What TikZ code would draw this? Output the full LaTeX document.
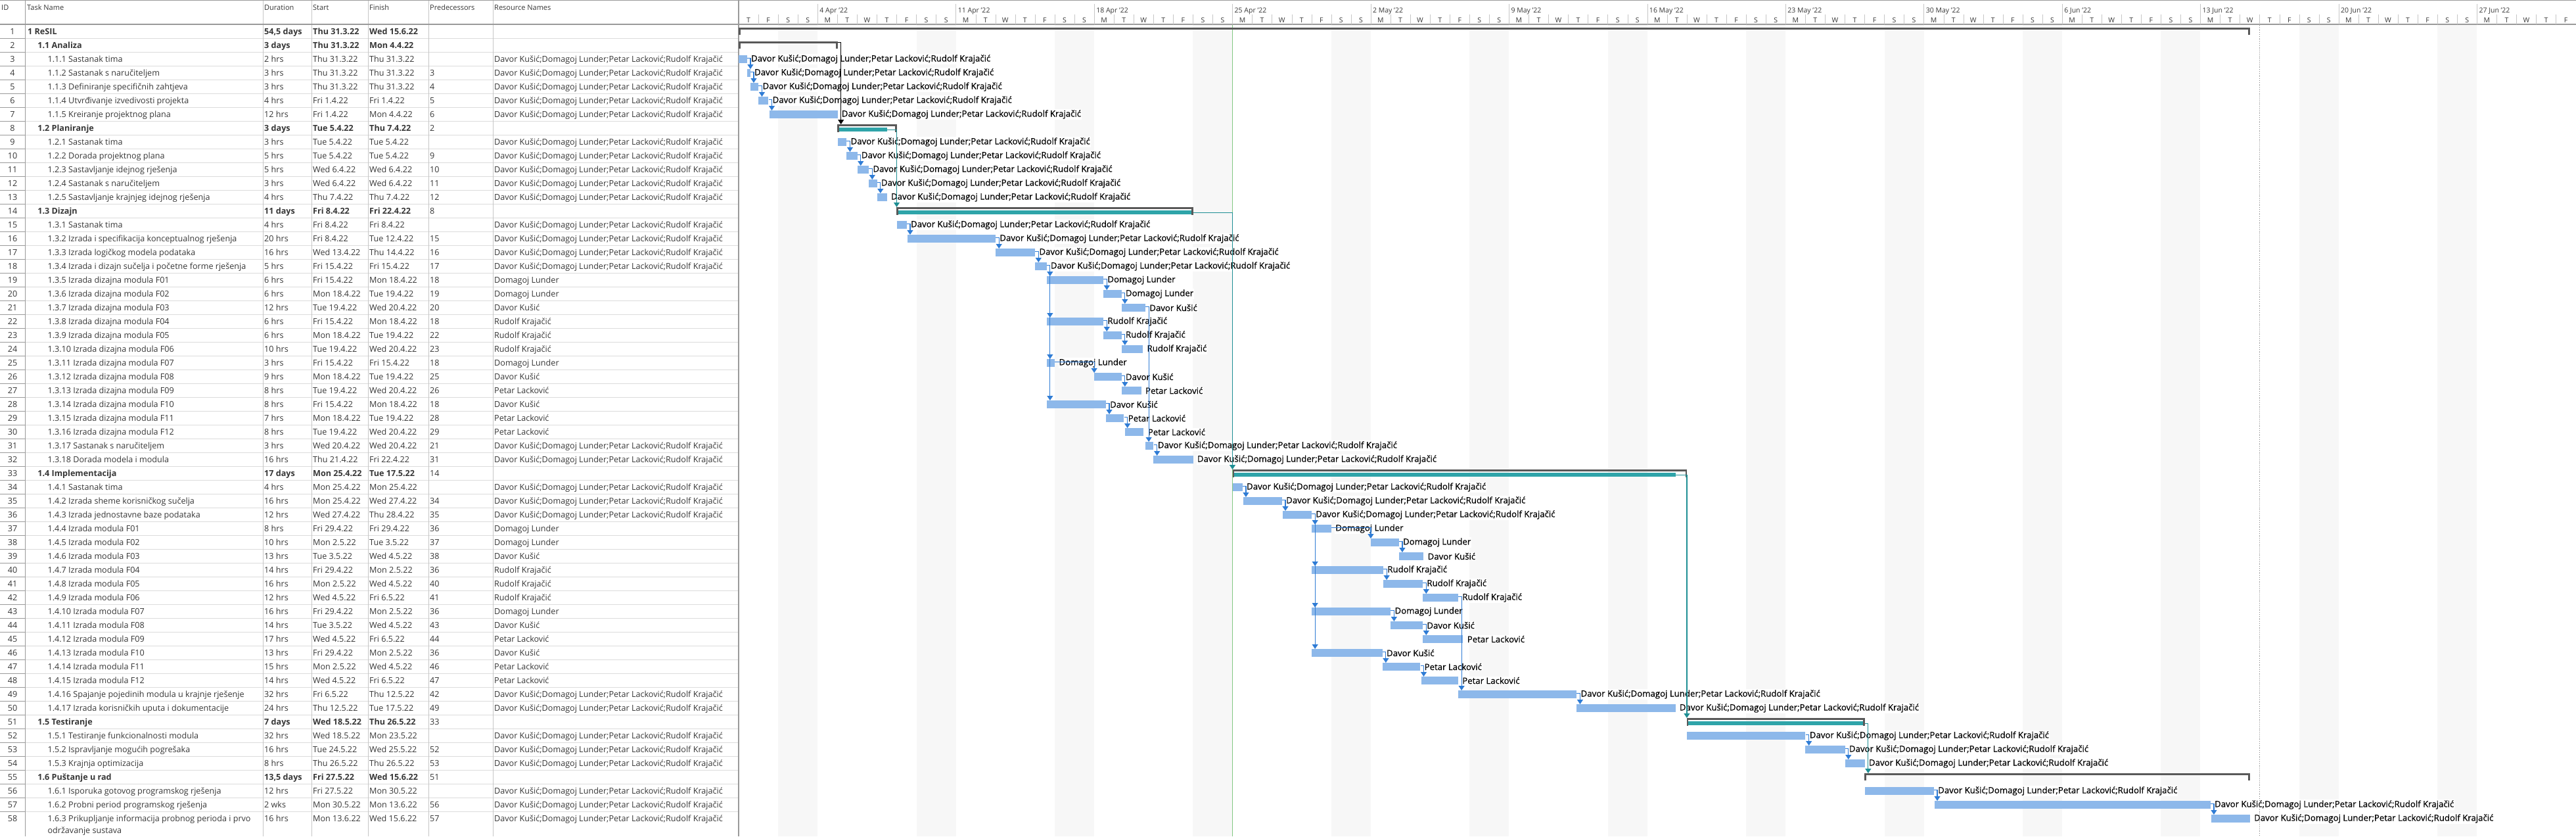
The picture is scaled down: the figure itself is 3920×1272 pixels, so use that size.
\documentclass[tikz,border=0pt]{standalone}
\usepackage{fontspec}
\setmainfont{Open Sans}
\newfontfamily\lblfont{Open Sans}[BoldFont={Open Sans},BoldFeatures={FakeBold=0.6}]
\usetikzlibrary{positioning,arrows.meta,calc}

\definecolor{barblue}{HTML}{8DB8EA}
\definecolor{linkblue}{HTML}{2F7CD5}
\definecolor{sumgray}{HTML}{595959}
\definecolor{rollteal}{HTML}{2FA4A9}
\definecolor{linkteal}{HTML}{1E8F94}
\definecolor{wkend}{HTML}{F7F7F7}
\definecolor{rowline}{HTML}{DCDCDC}
\definecolor{colline}{HTML}{C6C6C6}
\definecolor{idline}{HTML}{9A9A9A}
\definecolor{tabtext}{HTML}{363636}
\definecolor{nowgreen}{HTML}{82C782}

\newcommand\chartx{1124}
\newcommand\daywd{30.06}
\newcommand\hrw{1.2525}

\newcommand\resA{Davor Kušić;Domagoj Lunder;Petar Lacković;Rudolf Krajačić}
\newcommand\resD{Davor Kušić}
\newcommand\resM{Domagoj Lunder}
\newcommand\resP{Petar Lacković}
\newcommand\resR{Rudolf Krajačić}
\newcommand\resN{}

\tikzset{
  cell/.style={anchor=base west,inner sep=0pt,text=tabtext,font=\fontsize{12.6}{15}\selectfont},
  headcell/.style={anchor=base west,inner sep=0pt,text=tabtext,font=\fontsize{11}{13}\selectfont},
  scalecell/.style={inner sep=0pt,text=tabtext,font=\fontsize{10.5}{12}\selectfont},
  taskbar/.style={anchor=north west,fill=barblue,inner sep=0pt,minimum height=11.7pt},
  sumbar/.style={anchor=north west,fill=sumgray,inner sep=0pt,minimum height=3pt},
  rollbar/.style={anchor=north west,fill=rollteal,inner sep=0pt,minimum height=6pt},
  barlbl/.style={inner sep=1pt,fill=white,text=black,font=\lblfont\bfseries\fontsize{13.2}{15}\selectfont},
  lnk/.style={draw=linkblue,line width=1.2pt,-{Triangle[width=9pt,length=7pt]}},
}

\begin{document}
\begin{tikzpicture}[x=1pt,y=-1pt]
\useasboundingbox (0,0) rectangle (3920,1272);

% weekends
\foreach \k in {0,...,12}
  \fill[wkend] ({\chartx+(2+7*\k)*\daywd},38) rectangle ({\chartx+(4+7*\k)*\daywd},1272);

% table grid
\foreach \k in {1,...,57} {
  \draw[rowline] (38,{37+\k*21}) -- (1124,{37+\k*21});
  \draw[idline] (0,{37+\k*21}) -- (38,{37+\k*21});
}
\foreach \cx in {400,474,560,652,750}
  \draw[colline] (\cx,0) -- (\cx,1272);
\draw[idline] (38,0) -- (38,1272);
\draw[idline] (0,0.5) -- (3920,0.5);
\draw[idline,line width=1.5pt] (0,37) -- (3920,37);

\node[headcell] (hid) at (2,15) {ID};
\node[headcell] (hname) at (41,15) {Task Name};
\node[headcell] (hdur) at (402,15) {Duration};
\node[headcell] (hstart) at (476,15) {Start};
\node[headcell] (hfin) at (562,15) {Finish};
\node[headcell] (hpred) at (654,15) {Predecessors};
\node[headcell] (hres) at (752,15) {Resource Names};

\foreach \i/\lv/\nm/\du/\st/\fin/\pr/\rs in {
1/0/1 ReSIL/{54,5 days}/Thu 31.3.22/Wed 15.6.22//N,
2/1/1.1 Analiza/3 days/Thu 31.3.22/Mon 4.4.22//N,
3/2/1.1.1 Sastanak tima/2 hrs/Thu 31.3.22/Thu 31.3.22//A,
4/2/1.1.2 Sastanak s naručiteljem/3 hrs/Thu 31.3.22/Thu 31.3.22/3/A,
5/2/1.1.3 Definiranje specifičnih zahtjeva/3 hrs/Thu 31.3.22/Thu 31.3.22/4/A,
6/2/1.1.4 Utvrđivanje izvedivosti projekta/4 hrs/Fri 1.4.22/Fri 1.4.22/5/A,
7/2/1.1.5 Kreiranje projektnog plana/12 hrs/Fri 1.4.22/Mon 4.4.22/6/A,
8/1/1.2 Planiranje/3 days/Tue 5.4.22/Thu 7.4.22/2/N,
9/2/1.2.1 Sastanak tima/3 hrs/Tue 5.4.22/Tue 5.4.22//A,
10/2/1.2.2 Dorada projektnog plana/5 hrs/Tue 5.4.22/Tue 5.4.22/9/A,
11/2/1.2.3 Sastavljanje idejnog rješenja/5 hrs/Wed 6.4.22/Wed 6.4.22/10/A,
12/2/1.2.4 Sastanak s naručiteljem/3 hrs/Wed 6.4.22/Wed 6.4.22/11/A,
13/2/1.2.5 Sastavljanje krajnjeg idejnog rješenja/4 hrs/Thu 7.4.22/Thu 7.4.22/12/A,
14/1/1.3 Dizajn/11 days/Fri 8.4.22/Fri 22.4.22/8/N,
15/2/1.3.1 Sastanak tima/4 hrs/Fri 8.4.22/Fri 8.4.22//A,
16/2/1.3.2 Izrada i specifikacija konceptualnog rješenja/20 hrs/Fri 8.4.22/Tue 12.4.22/15/A,
17/2/1.3.3 Izrada logičkog modela podataka/16 hrs/Wed 13.4.22/Thu 14.4.22/16/A,
18/2/1.3.4 Izrada i dizajn sučelja i početne forme rješenja/5 hrs/Fri 15.4.22/Fri 15.4.22/17/A,
19/2/1.3.5 Izrada dizajna modula F01/6 hrs/Fri 15.4.22/Mon 18.4.22/18/M,
20/2/1.3.6 Izrada dizajna modula F02/6 hrs/Mon 18.4.22/Tue 19.4.22/19/M,
21/2/1.3.7 Izrada dizajna modula F03/12 hrs/Tue 19.4.22/Wed 20.4.22/20/D,
22/2/1.3.8 Izrada dizajna modula F04/6 hrs/Fri 15.4.22/Mon 18.4.22/18/R,
23/2/1.3.9 Izrada dizajna modula F05/6 hrs/Mon 18.4.22/Tue 19.4.22/22/R,
24/2/1.3.10 Izrada dizajna modula F06/10 hrs/Tue 19.4.22/Wed 20.4.22/23/R,
25/2/1.3.11 Izrada dizajna modula F07/3 hrs/Fri 15.4.22/Fri 15.4.22/18/M,
26/2/1.3.12 Izrada dizajna modula F08/9 hrs/Mon 18.4.22/Tue 19.4.22/25/D,
27/2/1.3.13 Izrada dizajna modula F09/8 hrs/Tue 19.4.22/Wed 20.4.22/26/P,
28/2/1.3.14 Izrada dizajna modula F10/8 hrs/Fri 15.4.22/Mon 18.4.22/18/D,
29/2/1.3.15 Izrada dizajna modula F11/7 hrs/Mon 18.4.22/Tue 19.4.22/28/P,
30/2/1.3.16 Izrada dizajna modula F12/8 hrs/Tue 19.4.22/Wed 20.4.22/29/P,
31/2/1.3.17 Sastanak s naručiteljem/3 hrs/Wed 20.4.22/Wed 20.4.22/21/A,
32/2/1.3.18 Dorada modela i modula/16 hrs/Thu 21.4.22/Fri 22.4.22/31/A,
33/1/1.4 Implementacija/17 days/Mon 25.4.22/Tue 17.5.22/14/N,
34/2/1.4.1 Sastanak tima/4 hrs/Mon 25.4.22/Mon 25.4.22//A,
35/2/1.4.2 Izrada sheme korisničkog sučelja/16 hrs/Mon 25.4.22/Wed 27.4.22/34/A,
36/2/1.4.3 Izrada jednostavne baze podataka/12 hrs/Wed 27.4.22/Thu 28.4.22/35/A,
37/2/1.4.4 Izrada modula F01/8 hrs/Fri 29.4.22/Fri 29.4.22/36/M,
38/2/1.4.5 Izrada modula F02/10 hrs/Mon 2.5.22/Tue 3.5.22/37/M,
39/2/1.4.6 Izrada modula F03/13 hrs/Tue 3.5.22/Wed 4.5.22/38/D,
40/2/1.4.7 Izrada modula F04/14 hrs/Fri 29.4.22/Mon 2.5.22/36/R,
41/2/1.4.8 Izrada modula F05/16 hrs/Mon 2.5.22/Wed 4.5.22/40/R,
42/2/1.4.9 Izrada modula F06/12 hrs/Wed 4.5.22/Fri 6.5.22/41/R,
43/2/1.4.10 Izrada modula F07/16 hrs/Fri 29.4.22/Mon 2.5.22/36/M,
44/2/1.4.11 Izrada modula F08/14 hrs/Tue 3.5.22/Wed 4.5.22/43/D,
45/2/1.4.12 Izrada modula F09/17 hrs/Wed 4.5.22/Fri 6.5.22/44/P,
46/2/1.4.13 Izrada modula F10/13 hrs/Fri 29.4.22/Mon 2.5.22/36/D,
47/2/1.4.14 Izrada modula F11/15 hrs/Mon 2.5.22/Wed 4.5.22/46/P,
48/2/1.4.15 Izrada modula F12/14 hrs/Wed 4.5.22/Fri 6.5.22/47/P,
49/2/1.4.16 Spajanje pojedinih modula u krajnje rješenje/32 hrs/Fri 6.5.22/Thu 12.5.22/42/A,
50/2/1.4.17 Izrada korisničkih uputa i dokumentacije/24 hrs/Thu 12.5.22/Tue 17.5.22/49/A,
51/1/1.5 Testiranje/7 days/Wed 18.5.22/Thu 26.5.22/33/N,
52/2/1.5.1 Testiranje funkcionalnosti modula/32 hrs/Wed 18.5.22/Mon 23.5.22//A,
53/2/1.5.2 Ispravljanje mogućih pogrešaka/16 hrs/Tue 24.5.22/Wed 25.5.22/52/A,
54/2/1.5.3 Krajnja optimizacija/8 hrs/Thu 26.5.22/Thu 26.5.22/53/A,
55/1/1.6 Puštanje u rad/{13,5 days}/Fri 27.5.22/Wed 15.6.22/51/N,
56/2/1.6.1 Isporuka gotovog programskog rješenja/12 hrs/Fri 27.5.22/Mon 30.5.22//A,
57/2/1.6.2 Probni period programskog rješenja/2 wks/Mon 30.5.22/Mon 13.6.22/56/A,
58/2/1.6.3 Prikupljanje informacija probnog perioda i prvo/16 hrs/Mon 13.6.22/Wed 15.6.22/57/A} {
  \pgfmathsetmacro\ty{37+(\i-1)*21+15}
  \node[cell,anchor=base] (id\i) at (19,\ty) {\i};
  \node[cell] (nm\i) at ({42+15.2*\lv},\ty) {\ifnum\lv<2\bfseries\fi\nm};
  \node[cell] (du\i) at (402,\ty) {\ifnum\lv<2\bfseries\fi\du};
  \node[cell] (st\i) at (476,\ty) {\ifnum\lv<2\bfseries\fi\st};
  \node[cell] (fi\i) at (562,\ty) {\ifnum\lv<2\bfseries\fi\fin};
  \node[cell] (pr\i) at (654,\ty) {\pr};
  \node[cell] (rs\i) at (752,\ty) {\csname res\rs\endcsname};
}
\node[cell] (nm58b) at (72.4,1267.5) {održavanje sustava};

% time scale
\draw[idline,line width=2pt] (1124,0) -- (1124,1272);
\foreach \d in {1,...,92}
  \draw[colline] ({\chartx+\d*\daywd},22) -- ++(0,15);
\foreach \w in {0,...,13}
  \foreach \j/\dl in {0/T,1/F,2/S,3/S,4/M,5/T,6/W} {
    \pgfmathtruncatemacro\dd{7*\w+\j}
    \ifnum\dd<93
      \node[scalecell,anchor=base] (dl\dd) at ({\chartx+(\dd+0.5)*\daywd},34.5) {\dl};
    \fi
  }
\foreach \k/\wl in {0/4 Apr '22,1/11 Apr '22,2/18 Apr '22,3/25 Apr '22,4/2 May '22,5/9 May '22,
  6/16 May '22,7/23 May '22,8/30 May '22,9/6 Jun '22,10/13 Jun '22,11/20 Jun '22,12/27 Jun '22} {
  \draw[colline] ({\chartx+(4+7*\k)*\daywd},6) -- ({\chartx+(4+7*\k)*\daywd},37);
  \node[scalecell,anchor=base west] (wk\k) at ({\chartx+(4+7*\k)*\daywd+3},19.5) {\wl};
}

% task bars and their resource labels
\foreach \i/\hs/\he/\rs in {3/0/10/A,4/10/14/A,5/14/24/A,6/24/36/A,7/37/120/A,
  9/120/131/A,10/131/144/A,11/144/158/A,12/158/168/A,13/168/180/A,
  15/192/204/A,16/205/312/A,17/312/360/A,18/360/374/A,
  19/374/443/M,20/443/465/M,21/465/494/D,22/374/443/R,23/443/465/R,24/465/491/R,
  25/374/384/M,26/432/465/D,27/465/489/P,28/374/446/D,29/446/468/P,30/469/492/P,
  31/494/504/A,32/504/552/A,34/600/612/A,35/613/660/A,36/661/696/A,
  37/696/720/M,38/768/802/M,39/802/832/D,40/696/783/R,41/783/831/R,42/831/874/R,
  43/696/792/M,44/792/831/D,45/831/880/P,46/696/782/D,47/782/828/P,48/829/874/P,
  49/874/1018/A,50/1018/1138/A,52/1152/1296/A,53/1296/1344/A,54/1344/1368/A,
  56/1368/1452/A,57/1453/1788/A,58/1789/1836/A} {
  \pgfmathsetmacro\bx{\chartx+\hs*\hrw}
  \pgfmathsetmacro\bw{(\he-\hs)*\hrw}
  \node[taskbar,minimum width=\bw pt] (b\i) at (\bx,{37+(\i-1)*21+5}) {};
  \node[barlbl,right=5pt of b\i] (l\i) {\csname res\rs\endcsname};
}

\draw[nowgreen,line width=1.2pt] ({\chartx+25*\daywd},38) -- ({\chartx+25*\daywd},1272);
\draw[gray,dotted,line width=0.8pt] ({\chartx+77*\daywd},38) -- ({\chartx+77*\daywd},1272);

% summaries
\foreach \i/\hs/\he in {1/0/1836,2/0/120,55/1368/1836} {
  \pgfmathsetmacro\bx{\chartx+\hs*\hrw}
  \pgfmathsetmacro\bw{(\he-\hs)*\hrw}
  \node[sumbar,minimum width=\bw pt] (g\i) at (\bx,{37+(\i-1)*21+5}) {};
  \fill[sumgray] (g\i.north west) rectangle ++(3pt,-10.5pt);
  \fill[sumgray] (g\i.north east) rectangle ++(-3pt,-10.5pt);
}
\foreach \i/\hs/\he/\re in {8/120/192/180,14/192/552/552,33/600/1152/1138,51/1152/1368/1368} {
  \pgfmathsetmacro\bx{\chartx+\hs*\hrw}
  \pgfmathsetmacro\bw{(\he-\hs)*\hrw}
  \pgfmathsetmacro\rw{(\re-\hs)*\hrw}
  \node[rollbar,minimum width=\rw pt] (t\i) at (\bx,{37+(\i-1)*21+10}) {};
  \node[sumbar,minimum height=2.5pt,minimum width=\bw pt] (g\i) at (\bx,{37+(\i-1)*21+5}) {};
  \fill[sumgray] (g\i.north west) rectangle ++(2.5pt,-11.5pt);
  \fill[sumgray] (g\i.north east) rectangle ++(-2.5pt,-11.5pt);
}

% links
\foreach \pa/\sb in {3/4,4/5,5/6,6/7,9/10,10/11,11/12,12/13,15/16,16/17,17/18,
  18/19,19/20,20/21,18/22,22/23,23/24,18/25,25/26,26/27,18/28,28/29,29/30,21/31,31/32,
  34/35,35/36,36/37,37/38,38/39,36/40,40/41,41/42,36/43,43/44,44/45,36/46,46/47,47/48,
  42/49,49/50,52/53,53/54,56/57,57/58}
  \draw[lnk] let \p1=(b\pa.east), \p2=(b\sb.north west) in
    ([yshift=1.5pt]b\pa.east) -- ({max(\x1+5pt,\x2)},\y1+1.5pt) -- ({max(\x1+5pt,\x2)},\y2);
\draw[lnk,draw=black,line width=1pt] let \p1=(g2.east), \p2=(g8.north west) in
  (g2.east) -- ({max(\x1+5pt,\x2)},\y1) -- ({max(\x1+5pt,\x2)},\y2);
\foreach \pa/\sb in {8/14,14/33,33/51,51/55}
  \draw[lnk,draw=linkteal] let \p1=(t\pa.east), \p2=(g\sb.north west) in
    (t\pa.east) -- ({max(\x1+5pt,\x2)},\y1) -- ({max(\x1+5pt,\x2)},\y2);
\end{tikzpicture}
\end{document}
